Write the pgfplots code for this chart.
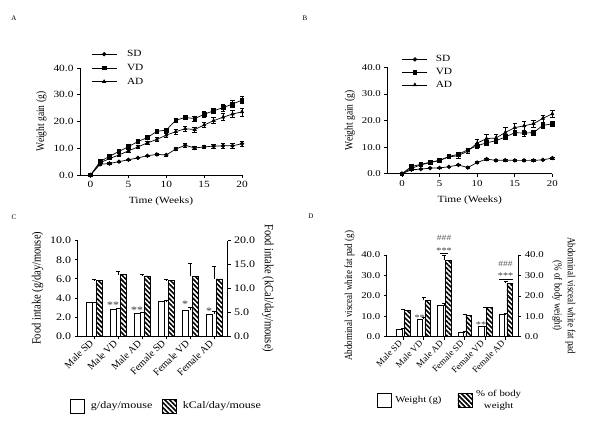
\documentclass[border=0pt]{standalone}
\usepackage{fontspec}
\setmainfont{Liberation Serif}
\usepackage{graphicx}
\usepackage{pgfplots}
\usepackage{pgfplotstable}
\pgfplotsset{compat=1.18}
\usetikzlibrary{patterns.meta}

% the original figure is stretched sideways, so text is too
\newcommand{\sx}[1]{\scalebox{1.2}[1]{#1}}
\newcommand{\sy}[1]{\scalebox{1}[1.2]{#1}}

% weight gain, panel A
\pgfplotstableread{
t sd sde vd vde ad ade
0 0 0 0 0 0 0
1.25 4.0 0.3 5.0 0.4 4.6 0.4
2.5 4.3 0.3 7.0 0.5 6.1 0.4
3.75 5.0 0.3 8.8 0.5 7.5 0.5
5 5.7 0.3 10.6 0.5 9.0 0.5
6.25 6.4 0.3 12.5 0.5 10.5 0.6
7.5 7.2 0.3 14.0 0.6 12.0 0.6
8.75 7.7 0.4 16.3 0.6 13.3 0.7
10 7.5 0.4 16.8 0.7 14.9 0.7
11.25 9.7 0.6 20.5 0.8 16.2 0.8
12.5 11.1 0.8 21.5 0.8 17.3 0.9
13.75 10.1 0.5 21.1 0.9 17.0 0.9
15 10.5 0.6 22.7 1.0 18.7 1.0
16.25 10.8 0.7 24.0 1.1 20.3 1.1
17.5 10.9 0.8 25.2 1.2 21.6 1.3
18.75 10.9 0.8 26.5 1.3 22.8 1.4
20 11.7 0.9 28.0 1.3 23.6 1.5
}\dataA

% weight gain, panel B
\pgfplotstableread{
t sd sde vd vde ad ade
0 0 0 0 0 0 0
1.25 1.5 0.2 2.7 0.4 2.0 0.4
2.5 1.7 0.2 3.5 0.4 3.3 0.5
3.75 2.1 0.2 4.3 0.4 4.2 0.5
5 2.2 0.2 5.0 0.4 5.0 0.5
6.25 2.6 0.2 6.5 0.5 6.3 0.6
7.5 3.3 0.3 7.3 0.6 6.8 1.0
8.75 2.3 0.3 9.0 0.7 8.5 1.0
10 4.2 0.3 10.5 0.9 11.5 1.5
11.25 5.5 0.3 11.6 1.0 13.2 1.6
12.5 5.0 0.3 12.4 1.0 13.4 1.6
13.75 5.1 0.3 13.8 1.0 15.5 1.8
15 5.0 0.3 15.4 1.1 17.3 1.6
16.25 5.0 0.3 15.3 1.2 18.0 1.6
17.5 5.0 0.3 15.4 1.0 18.8 1.3
18.75 5.2 0.3 18.2 1.1 20.8 1.3
20 5.9 0.4 18.7 0.9 22.5 1.3
}\dataB

% food intake, panel C
\pgfplotstableread{
x g ge k ke
0 3.5 0.03 11.6 0.2
1 2.8 0.1 12.9 0.6
2 2.4 0.1 12.6 0.4
3 3.6 0.1 11.6 0.2
4 2.7 0.3 12.5 2.8
5 2.3 0.3 12.0 2.6
}\dataC

% fat pad, panel D
\pgfplotstableread{
x w we p pe
0 3.8 0.3 13.0 0.5
1 8.5 1.0 17.8 1.5
2 15.2 1.0 37.5 2.5
3 2.3 0.2 10.4 0.5
4 4.9 0.3 14.2 0.3
5 10.9 0.4 26.1 0.8
}\dataD

\pgfplotsset{
  gp/.style={
    scale only axis, anchor=south west, clip=false,
    axis x line*=bottom, axis y line*=left,
    axis line style={-, line width=0.7pt},
    tick align=outside, major tick length=3pt,
    every tick/.style={black, line width=0.7pt},
    /pgf/number format/assume math mode=true,
    yticklabel={\sx{\pgfmathprintnumber[fixed,fixed zerofill,precision=1]{\tick}}},
  },
  numx/.style={xticklabel={\sx{\pgfmathprintnumber{\tick}}}},
  ln/.style={black, line width=0.7pt, mark size=1.8pt, mark options={solid},
    error bars/y dir=both, error bars/y explicit,
    error bars/error bar style={line width=0.6pt},
    error bars/error mark options={rotate=90, mark size=2.2pt, line width=0.6pt}},
  whitebar/.style={ybar, draw=black, fill=white, line width=0.6pt,
    error bars/y dir=plus, error bars/y explicit,
    error bars/error bar style={line width=0.6pt},
    error bars/error mark options={rotate=90, mark size=2pt, line width=0.6pt}},
  hatchbar/.style={ybar, draw=black, line width=0.6pt,
    pattern={Lines[angle=-45,distance=3.4pt,line width=1.6pt]},
    error bars/y dir=plus, error bars/y explicit,
    error bars/error bar style={line width=0.6pt},
    error bars/error mark options={rotate=90, mark size=2pt, line width=0.6pt}},
  boxleg/.style={legend image code/.code={\draw[##1] (0pt,-7pt) rectangle (14pt,7pt);}},
  lineleg/.style={legend image code/.code={\draw[##1, mark repeat=2, mark phase=2] plot coordinates {(0pt,0pt) (12.5pt,0pt) (25pt,0pt)};}},
}

\tikzset{
  st/.style={anchor=base, inner sep=0pt, yshift=-5pt, text=black!80, font=\fontsize{10}{10}\selectfont},
}

\begin{document}
\begin{tikzpicture}[x=1pt,y=1pt]
\useasboundingbox (0,0) rectangle (600,437);

\node[font=\fontsize{7}{7}\selectfont] at (14,419) {A};
\node[font=\fontsize{7}{7}\selectfont] at (305,419) {B};
\node[font=\fontsize{7}{7}\selectfont] at (14,220) {C};
\node[font=\fontsize{7}{7}\selectfont] at (311,221) {D};

% ---------- A
\begin{axis}[gp, numx, at={(80pt,262pt)}, width=162pt, height=107pt,
  xmin=-1.4, xmax=20, ymin=0, ymax=40,
  xtick={0,5,10,15,20}, ytick={0,10,20,30,40},
  tick label style={font=\fontsize{9.5}{10}\selectfont},
  label style={font=\fontsize{9.5}{11}\selectfont},
  xlabel={\sx{Time (Weeks)}}, ylabel={\sy{Weight gain (g)}},
  xlabel style={yshift=-2pt},
  lineleg, legend cell align=left,
  legend style={draw=none, fill=none, at={(0.05,1.205)}, anchor=north west,
    font=\fontsize{9.5}{10}\selectfont, row sep=2pt,
    /tikz/every odd column/.append style={column sep=8pt}}]
\addplot[ln, mark=*] table[x=t, y=sd, y error=sde] {\dataA};
\addlegendentry{\sx{SD}}
\addplot[ln, mark=square*] table[x=t, y=vd, y error=vde] {\dataA};
\addlegendentry{\sx{VD}}
\addplot[ln, mark=triangle*] table[x=t, y=ad, y error=ade] {\dataA};
\addlegendentry{\sx{AD}}
\end{axis}

% ---------- B
\begin{axis}[gp, numx, at={(387.3pt,263.3pt)}, width=165pt, height=106.4pt,
  xmin=-1.95, xmax=20, ymin=0, ymax=40,
  xtick={0,5,10,15,20}, ytick={0,10,20,30,40},
  tick label style={font=\fontsize{9}{10}\selectfont},
  label style={font=\fontsize{9.5}{11}\selectfont},
  xlabel={\sx{Time (Weeks)}}, ylabel={\sy{Weight gain (g)}},
  xlabel style={yshift=-3pt},
  lineleg, legend cell align=left,
  legend style={draw=none, fill=none, at={(0.07,1.15)}, anchor=north west,
    font=\fontsize{9.5}{10}\selectfont, row sep=1pt,
    /tikz/every odd column/.append style={column sep=6pt}}]
\addplot[ln, mark=*] table[x=t, y=sd, y error=sde] {\dataB};
\addlegendentry{\sx{SD}}
\addplot[ln, mark=square*] table[x=t, y=vd, y error=vde] {\dataB};
\addlegendentry{\sx{VD}}
\addplot[ln, mark=triangle*] table[x=t, y=ad, y error=ade] {\dataB};
\addlegendentry{\sx{AD}}
\end{axis}

% ---------- C
\begin{axis}[gp, at={(77.7pt,101pt)}, width=150pt, height=95.3pt,
  xmin=-0.68, xmax=5.57, ymin=0, ymax=10, ytick={0,2,4,6,8,10},
  xtick={0,1,2,3,4,5},
  xticklabels={Male SD,Male VD,Male AD,Female SD,Female VD,Female AD},
  tick label style={font=\fontsize{10}{10}\selectfont},
  xticklabel style={rotate=45, anchor=east},
  label style={font=\fontsize{10.5}{11}\selectfont},
  ylabel={\sy{Food intake (g/day/mouse)}}]
\addplot[whitebar, bar width=6pt, bar shift=-5pt] table[x=x, y=g, y error=ge] {\dataC};
\node[st, xshift=-5pt] at (axis cs:1,3.36) {\sx{**}};
\node[st, xshift=-5pt] at (axis cs:2,2.91) {\sx{**}};
\node[st, xshift=-5pt] at (axis cs:4,3.49) {\sx{*}};
\node[st, xshift=-5pt] at (axis cs:5,2.83) {\sx{*}};
\end{axis}
\begin{axis}[gp, at={(77.7pt,101pt)}, width=150pt, height=95.3pt,
  axis x line=none, axis y line*=right,
  xmin=-0.68, xmax=5.57, ymin=0, ymax=20, ytick={0,5,10,15,20}, xtick=\empty,
  tick label style={font=\fontsize{10}{10}\selectfont},
  label style={font=\fontsize{10.5}{11}\selectfont},
  ylabel={\sy{Food intake (kCal/day/mouse)}}, ylabel style={rotate=180},
  legend columns=2, legend cell align=left,
  legend style={draw=none, fill=none, at={(-0.07,-0.735)}, anchor=west,
    font=\fontsize{10}{10}\selectfont,
    /tikz/every odd column/.append style={column sep=4pt},
    /tikz/every even column/.append style={column sep=8pt}}]
\addplot[hatchbar, bar width=6pt, bar shift=5pt, forget plot] table[x=x, y=k, y error=ke] {\dataC};
\addlegendimage{boxleg, draw=black, fill=white, line width=0.6pt}
\addlegendentry{\sx{g/day/mouse}}
\addlegendimage{boxleg, draw=black, line width=0.6pt, pattern={Lines[angle=-45,distance=3.4pt,line width=1.6pt]}}
\addlegendentry{\sx{kCal/day/mouse}}
\end{axis}

% ---------- D
\begin{axis}[gp, at={(386.7pt,100.3pt)}, width=131.6pt, height=81.7pt,
  xmin=-0.8, xmax=5.62, ymin=0, ymax=40, ytick={0,10,20,30,40},
  xtick={0,1,2,3,4,5},
  xticklabels={Male SD,Male VD,Male AD,Female SD,Female VD,Female AD},
  tick label style={font=\fontsize{9}{10}\selectfont},
  xticklabel style={rotate=45, anchor=east},
  label style={font=\fontsize{9}{11}\selectfont},
  ylabel={\sy{Abdominal visceal white fat pad (g)}}]
\addplot[whitebar, bar width=5.5pt, bar shift=-4pt] table[x=x, y=w, y error=we] {\dataD};
\node[st, xshift=-4pt, font=\fontsize{8.5}{9}\selectfont] at (axis cs:1,10.6) {\sx{**}};
\node[st, xshift=-4pt, font=\fontsize{8.5}{9}\selectfont] at (axis cs:4,7.1) {\sx{**}};
\end{axis}
\begin{axis}[gp, at={(386.7pt,100.3pt)}, width=131.6pt, height=81.7pt,
  axis x line=none, axis y line*=right,
  xmin=-0.8, xmax=5.62, ymin=0, ymax=40, ytick={0,10,20,30,40}, xtick=\empty,
  tick label style={font=\fontsize{9}{10}\selectfont},
  label style={font=\fontsize{9}{11}\selectfont},
  ylabel={\sy{\begin{tabular}{@{}c@{}}Abdominal visceal white fat pad\\(\% of body weight)\end{tabular}}},
  ylabel style={rotate=180},
  legend columns=2, legend cell align=left,
  legend style={draw=none, fill=none, at={(-0.1,-0.775)}, anchor=west,
    font=\fontsize{9}{10}\selectfont,
    /tikz/every odd column/.append style={column sep=2pt},
    /tikz/every even column/.append style={column sep=14pt}}]
\addplot[hatchbar, bar width=5.5pt, bar shift=4pt, forget plot] table[x=x, y=p, y error=pe] {\dataD};
\addlegendimage{boxleg, draw=black, fill=white, line width=0.6pt}
\addlegendentry{\sx{Weight (g)}}
\addlegendimage{boxleg, draw=black, line width=0.6pt, pattern={Lines[angle=-45,distance=3.4pt,line width=1.6pt]}}
\addlegendentry{\sx{\shortstack{\% of body\\weight}}}
\draw[line width=0.6pt] ([xshift=-4pt]axis cs:2,40.9) -- ([xshift=4pt]axis cs:2,40.9);
\node[st, font=\fontsize{8.5}{9}\selectfont] at (axis cs:2,43.1) {\sx{***}};
\node[st, yshift=2pt, font=\fontsize{8}{9}\selectfont, text=black!65] at (axis cs:2,48.7) {\sx{\#\#\#}};
\draw[line width=0.6pt] ([xshift=-7pt]axis cs:5,28.3) -- ([xshift=7pt]axis cs:5,28.3);
\node[st, font=\fontsize{8.5}{9}\selectfont] at (axis cs:5,31.1) {\sx{***}};
\node[st, yshift=2pt, font=\fontsize{8}{9}\selectfont, text=black!65] at (axis cs:5,36.0) {\sx{\#\#\#}};
\end{axis}
\end{tikzpicture}
\end{document}
